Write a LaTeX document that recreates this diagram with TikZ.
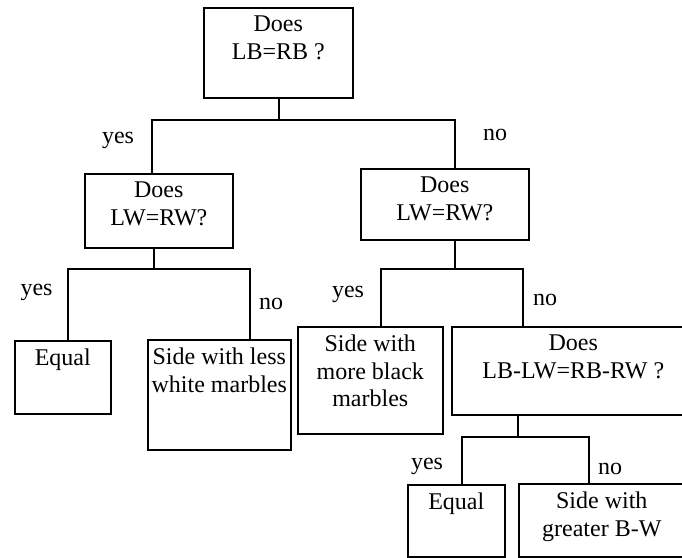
\documentclass[tikz,border=0pt]{standalone}
\usepackage{fontspec}
\setmainfont{Liberation Serif}
\usetikzlibrary{positioning}

\begin{document}
\begin{tikzpicture}[
  x=1pt, y=-1pt,
  every node/.style={font=\fontsize{24}{27.5}\selectfont},
  box/.style={rectangle,draw,line width=1.6pt,inner sep=0pt,anchor=north west},
  txt/.style={align=center,inner xsep=0pt,inner ysep=8.2pt},
  ans/.style={anchor=base,inner sep=0pt},
  every path/.style={line width=1.6pt}
]
\useasboundingbox (0,0) rectangle (682,557);

% ROOT
\node[box,minimum width=149,minimum height=90] (Q1) at (203,7) {};
\node[txt] (Q1t) [below=0pt of Q1.north] {Does\\LB=RB ?};

% SECOND LEVEL
\node[box,minimum width=148,minimum height=74] (QL) at (84,173) {};
\node[txt] (QLt) [below=0pt of QL.north] {Does\\LW=RW?};

\node[box,minimum width=168,minimum height=71] (QR) at (360,168) {};
\node[txt] (QRt) [below=0pt of QR.north] {Does\\LW=RW?};

\coordinate (J1)  at (279,120);
\coordinate (J1L) at (152,120);
\coordinate (J1R) at (455,120);
\draw (Q1.south -| J1) -- (J1);
\draw (QL.north -| J1L) -- (J1L) -- (J1R) -- (QR.north -| J1R);
\node[ans] (yes1) at (118,143) {yes};
\node[ans] (no1)  at (495,140) {no};

% LEAVES UNDER LEFT QUESTION
\node[box,minimum width=96,minimum height=73] (EqL) at (14,340) {};
\node[txt] (EqLt) [below=0pt of EqL.north] {Equal};

\node[box,minimum width=143,minimum height=110] (LessW) at (147,339) {};
\node[txt] (LessWt) [below=0pt of LessW.north] {Side with less\\white marbles};

\coordinate (J2)  at (154,269);
\coordinate (J2L) at (68,269);
\coordinate (J2R) at (250,269);
\draw (QL.south -| J2) -- (J2);
\draw (EqL.north -| J2L) -- (J2L) -- (J2R) -- (LessW.north -| J2R);
\node[ans] (yes2) at (36.5,295) {yes};
\node[ans] (no2)  at (271,309) {no};

% UNDER RIGHT QUESTION
\node[box,minimum width=145,minimum height=107] (MoreB) at (297,326) {};
\node[txt] (MoreBt) [below=0pt of MoreB.north] {Side with\\more black\\marbles};

\node[box,minimum width=243,minimum height=88] (Q3) at (451,326) {};
\node[txt] (Q3t) [below=0pt of Q3.north] {Does\\LB-LW=RB-RW ?};

\coordinate (J3)  at (455,269);
\coordinate (J3L) at (381,269);
\coordinate (J3R) at (523,269);
\draw (QR.south -| J3) -- (J3);
\draw (MoreB.north -| J3L) -- (J3L) -- (J3R) -- (Q3.north -| J3R);
\node[ans] (yes3) at (348,297) {yes};
\node[ans] (no3)  at (545,305) {no};

% LAST LEVEL
\node[box,minimum width=97,minimum height=72] (EqR) at (407,484) {};
\node[txt] (EqRt) [below=0pt of EqR.north] {Equal};

\node[box,minimum width=166,minimum height=73] (GreatBW) at (518,483) {};
\node[txt] (GreatBWt) [below=0pt of GreatBW.north] {Side with\\greater B-W};

\coordinate (J4)  at (518,437);
\coordinate (J4L) at (462,437);
\coordinate (J4R) at (589,437);
\draw (Q3.south -| J4) -- (J4);
\draw (EqR.north -| J4L) -- (J4L) -- (J4R) -- (GreatBW.north -| J4R);
\node[ans] (yes4) at (427,469) {yes};
\node[ans] (no4)  at (610,474) {no};

\end{tikzpicture}
\end{document}
